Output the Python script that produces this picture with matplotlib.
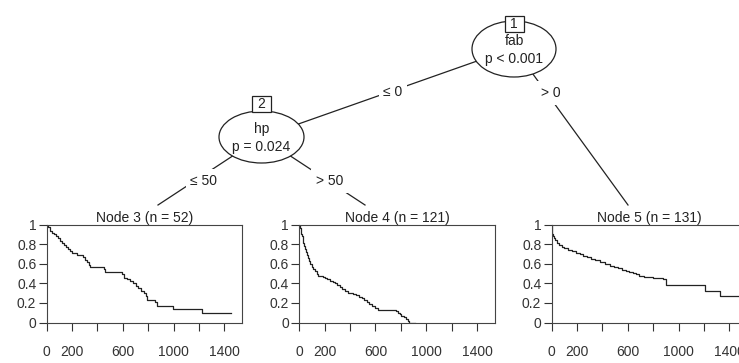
import matplotlib
matplotlib.use("Agg")
import matplotlib.pyplot as plt
from matplotlib.patches import Ellipse, Rectangle

plt.rcParams['font.family'] = ['Liberation Sans', 'DejaVu Sans']
plt.rcParams['font.size'] = 10

# Kaplan-Meier curves (time, survival after step)
node3_time = [0, 12, 25, 40, 55, 75, 90, 105, 120, 135, 150, 170, 185, 200, 240, 285,
              300, 315, 330, 345, 450, 460, 595, 605, 630, 655, 680, 700, 720, 745,
              765, 780, 790, 850, 870, 995, 1225, 1455]
node3_surv = [1.0, 0.98, 0.94, 0.92, 0.90, 0.88, 0.86, 0.83, 0.81, 0.79, 0.77, 0.75, 0.73,
              0.71, 0.69, 0.67, 0.64, 0.62, 0.59, 0.57, 0.55, 0.52, 0.50, 0.46, 0.44, 0.42,
              0.40, 0.37, 0.35, 0.32, 0.30, 0.27, 0.23, 0.21, 0.17, 0.14, 0.10, 0.10]

node4_time = [0, 5, 10, 15, 20, 26, 32, 38, 45, 52, 60, 68, 76, 86, 97, 110, 125, 140, 150,
              190, 205, 220, 242, 262, 282, 300, 320, 340, 360, 382, 420, 450, 470, 490,
              510, 532, 552, 572, 595, 619, 760, 775, 790, 805, 822, 840, 855, 865, 915]
node4_surv = [1.0, 0.97, 0.94, 0.91, 0.88, 0.85, 0.81, 0.78, 0.75, 0.72, 0.69, 0.66, 0.63,
              0.60, 0.57, 0.55, 0.53, 0.50, 0.48, 0.47, 0.45, 0.44, 0.42, 0.41, 0.40, 0.38,
              0.36, 0.34, 0.32, 0.30, 0.29, 0.28, 0.26, 0.25, 0.23, 0.21, 0.19, 0.17, 0.15,
              0.13, 0.12, 0.10, 0.09, 0.07, 0.06, 0.04, 0.02, 0.0, 0.0]

node5_time = [0, 3, 6, 10, 15, 25, 40, 55, 78, 100, 130, 160, 195, 220, 247, 280, 312, 345,
              378, 420, 456, 490, 521, 555, 586, 610, 638, 665, 690, 730, 800, 860, 875,
              900, 1210, 1325, 1500]
node5_surv = [1.0, 0.95, 0.91, 0.88, 0.86, 0.84, 0.81, 0.79, 0.77, 0.76, 0.74, 0.73, 0.71,
              0.70, 0.68, 0.67, 0.65, 0.64, 0.62, 0.60, 0.58, 0.57, 0.56, 0.54, 0.53, 0.52,
              0.51, 0.50, 0.48, 0.47, 0.46, 0.45, 0.44, 0.38, 0.32, 0.27, 0.27]

titles = ["Node 3 (n = 52)", "Node 4 (n = 121)", "Node 5 (n = 131)"]
xticks = [0, 200, 400, 600, 800, 1000, 1200, 1400]
xticklabels = ["0", "200", "", "600", "", "1000", "", "1400"]
yticks = [0, 0.2, 0.4, 0.6, 0.8, 1]
yticklabels = ["0", "0.2", "0.4", "0.6", "0.8", "1"]

W, H = 739, 363
fig = plt.figure(figsize=(W / 100, H / 100), dpi=100)

# tree drawn in pixel coordinates
tr = fig.add_axes([0, 0, 1, 1])
tr.set_xlim(0, W)
tr.set_ylim(H, 0)
tr.axis('off')

lc = '#222222'
# edges
tr.plot([514, 261.5], [48, 137], color=lc, lw=0.9, zorder=1)
tr.plot([514, 628], [48, 205], color=lc, lw=0.9, zorder=1)
tr.plot([261.5, 158], [137, 205], color=lc, lw=0.9, zorder=1)
tr.plot([261.5, 365], [137, 205], color=lc, lw=0.9, zorder=1)

lab_box = dict(boxstyle='square,pad=0.35', fc='white', ec='none')
tr.text(393, 92, "≤ 0", ha='center', va='center', color=lc, bbox=lab_box, zorder=3)
tr.text(551, 93, "> 0", ha='center', va='center', color=lc, bbox=lab_box, zorder=3)
tr.text(204, 181, "≤ 50", ha='center', va='center', color=lc, bbox=lab_box, zorder=3)
tr.text(330, 181, "> 50", ha='center', va='center', color=lc, bbox=lab_box, zorder=3)

# inner nodes: centre, ellipse size, top of number box
for cx, cy, w, h, btop, num, var, pv in [(514, 49, 84, 56, 16, "1", "fab", "p < 0.001"),
                                         (261.5, 137, 85, 52, 96, "2", "hp", "p = 0.024")]:
    tr.add_patch(Ellipse((cx, cy), w, h, fc='white', ec=lc, lw=0.9, zorder=4))
    tr.add_patch(Rectangle((cx - 9.5, btop), 19, 16, fc='white', ec=lc, lw=0.9, zorder=5))
    tr.text(cx, btop + 8, num, ha='center', va='center', color=lc, zorder=6)
    tr.text(cx, cy - 8, var, ha='center', va='center', color=lc, zorder=6)
    tr.text(cx, cy + 10, pv, ha='center', va='center', color=lc, zorder=6)

# terminal nodes
lefts = [46.7, 299.3, 551.7]
pw, top_px, bot_px = 195.5, 224.7, 322.5
curves = [(node3_time, node3_surv), (node4_time, node4_surv), (node5_time, node5_surv)]

for left, (t, s), title in zip(lefts, curves, titles):
    ax = fig.add_axes([left / W, (H - bot_px) / H, pw / W, (bot_px - top_px) / H])
    ax.step(t, s, where='post', color=lc, lw=0.9)
    ax.set_xlim(0, 1540)
    ax.set_ylim(0, 1)
    ax.set_xticks(xticks)
    ax.set_xticklabels(xticklabels)
    ax.set_yticks(yticks)
    ax.set_yticklabels(yticklabels)
    ax.tick_params(axis='x', length=6, width=0.8, pad=10, colors='#333333', labelsize=10)
    ax.tick_params(axis='y', length=6, width=0.8, pad=1.5, colors='#333333', labelsize=10)
    for sp in ax.spines.values():
        sp.set_color('#444444')
        sp.set_linewidth(0.8)
    ax.set_title(title, pad=1.5, fontsize=10, color=lc)

fig.savefig("out.png", dpi=100)
